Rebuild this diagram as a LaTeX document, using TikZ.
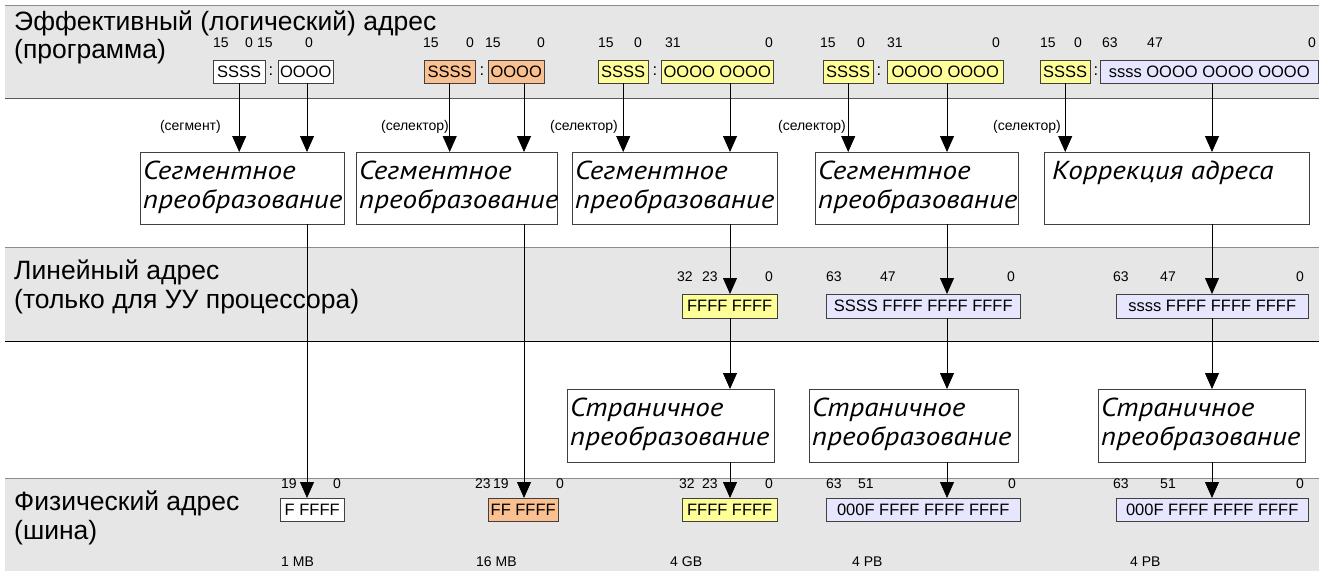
\documentclass[tikz,border=0pt]{standalone}
\usepackage{fontspec}
\setmainfont{Liberation Sans}
\newfontfamily\cursivefamily{PT Sans}[FakeStretch=1.12]
\usetikzlibrary{arrows.meta, positioning}
\definecolor{BandGray}{HTML}{E6E6E6}
\definecolor{RuleGray}{HTML}{8C8C8C}
\definecolor{Peach}{HTML}{FAC08F}
\definecolor{Lemon}{HTML}{FFFF99}
\definecolor{Lavender}{HTML}{E6E6FF}
\newcommand{\bandfont}{\fontsize{26.5}{30}\selectfont}
\newcommand{\bitfont}{\fontsize{14}{16}\selectfont}
\newcommand{\regfont}{\fontsize{16.5}{18}\selectfont}
\newcommand{\convfont}{\cursivefamily\fontsize{26}{29}\selectfont\itshape}

\begin{document}
\begin{tikzpicture}[x=1pt, y=-1pt,
    title/.style={font=\bandfont, anchor=base west, inner sep=0pt},
    bitl/.style={font=\bitfont, anchor=base west, inner sep=0pt},
    bitr/.style={font=\bitfont, anchor=base east, inner sep=0pt},
    reg/.style={draw=black!75, anchor=north west, inner sep=0pt,
                minimum height=23pt, font=\regfont},
    colon/.style={font=\regfont, inner sep=0pt},
    conv/.style={draw=black!75, fill=white, anchor=north west, inner sep=0pt},
    convtext/.style={font=\convfont, anchor=north west, align=left, inner sep=0pt},
    flow/.style={draw=black, line width=0.8pt, -{Triangle[length=16pt,width=14pt]}}]
    \useasboundingbox (0,0) rectangle (1319,570);

    % Bands
    \fill[BandGray] (5,5) rectangle (1319,98);
    \draw[RuleGray] (5,5) -- (1319,5);
    \draw[black!65] (5,98) -- (1319,98);
    \fill[BandGray] (5,247) rectangle (1319,341);
    \draw[RuleGray] (5,247) -- (1319,247);
    \draw[black] (5,341) -- (1319,341);
    \fill[BandGray] (5,478) rectangle (1319,572);
    \draw[RuleGray] (5,478) -- (1319,478);

    \node[title] (effA) at (14,30) {Эффективный (логический) адрес};
    \node[title] (effB) at (14,58) {(программа)};
    \node[title] (linA) at (14,279) {Линейный адрес};
    \node[title] (linB) at (14,308) {(только для УУ процессора)};
    \node[title] (phyA) at (14,510) {Физический адрес};
    \node[title] (phyB) at (14,539) {(шина)};

    % Logical addresses
    \node[reg, fill=white, minimum width=52pt] (s1) at (213,60) {SSSS};
    \node[colon] (k1) at (271,71) {:};
    \node[reg, fill=white, minimum width=55pt] (o1) at (278,60) {OOOO};
    \node[reg, fill=Peach, minimum width=51pt] (s2) at (424,60) {SSSS};
    \node[colon] (k2) at (482,71) {:};
    \node[reg, fill=Peach, minimum width=56pt] (o2) at (488,60) {OOOO};
    \node[reg, fill=Lemon, minimum width=50pt] (s3) at (598,60) {SSSS};
    \node[colon] (k3) at (655,71) {:};
    \node[reg, fill=Lemon, minimum width=112pt] (o3) at (661,60) {OOOO OOOO};
    \node[reg, fill=Lemon, minimum width=50pt] (s4) at (823,60) {SSSS};
    \node[colon] (k4) at (879,71) {:};
    \node[reg, fill=Lemon, minimum width=116pt] (o4) at (887,60) {OOOO OOOO};
    \node[reg, fill=Lemon, minimum width=50pt] (s5) at (1040,60) {SSSS};
    \node[colon] (k5) at (1096,71) {:};
    \node[reg, fill=Lavender, minimum width=218pt] (o5) at (1100,60) {ssss OOOO OOOO OOOO};

    \node[bitl] (t1) at (213,47) {15};   \node[bitr] (t2) at (253,47) {0};
    \node[bitl] (t3) at (257,47) {15};   \node[bitr] (t4) at (313,47) {0};
    \node[bitl] (t5) at (423,47) {15};   \node[bitr] (t6) at (474,47) {0};
    \node[bitl] (t7) at (485,47) {15};   \node[bitr] (t8) at (545,47) {0};
    \node[bitl] (t9) at (598,47) {15};   \node[bitr] (t10) at (642,47) {0};
    \node[bitl] (t11) at (665,47) {31};  \node[bitr] (t12) at (773,47) {0};
    \node[bitl] (t13) at (820,47) {15};  \node[bitr] (t14) at (865,47) {0};
    \node[bitl] (t15) at (887,47) {31};  \node[bitr] (t16) at (1000,47) {0};
    \node[bitl] (t17) at (1040,47) {15}; \node[bitr] (t18) at (1082,47) {0};
    \node[bitl] (t19) at (1102,47) {63}; \node[bitl] (t20) at (1147,47) {47};
    \node[bitr] (t21) at (1316,47) {0};

    \node[bitr] (seg) at (221,130) {(сегмент)};
    \node[bitr] (sel2) at (449,130) {(селектор)};
    \node[bitr] (sel3) at (618,130) {(селектор)};
    \node[bitr] (sel4) at (846,130) {(селектор)};
    \node[bitr] (sel5) at (1061,130) {(селектор)};

    % Segment translation
    \node[conv, minimum width=204pt, minimum height=72pt] (seg1) at (140,152) {};
    \node[conv, minimum width=201pt, minimum height=72pt] (seg2) at (356,152) {};
    \node[conv, minimum width=205pt, minimum height=72pt] (seg3) at (572,152) {};
    \node[conv, minimum width=203pt, minimum height=72pt] (seg4) at (815,152) {};
    \node[conv, minimum width=265pt, minimum height=72pt] (seg5) at (1044,152) {};
    \node[convtext] (segT1) at ([shift={(3,9)}]seg1.north west) {Сегментное\\преобразование};
    \node[convtext] (segT2) at ([shift={(3,9)}]seg2.north west) {Сегментное\\преобразование};
    \node[convtext] (segT3) at ([shift={(3,9)}]seg3.north west) {Сегментное\\преобразование};
    \node[convtext] (segT4) at ([shift={(3,9)}]seg4.north west) {Сегментное\\преобразование};
    \node[convtext] (segT5) at ([shift={(8,9)}]seg5.north west) {Коррекция адреса};

    % Linear addresses
    \node[reg, fill=Lemon, minimum width=95pt, minimum height=24pt] (lin3) at (682,294) {FFFF FFFF};
    \node[reg, fill=Lavender, minimum width=194pt, minimum height=24pt] (lin4) at (826,294) {SSSS FFFF FFFF FFFF};
    \node[reg, fill=Lavender, minimum width=192pt, minimum height=24pt] (lin5) at (1116,294) {ssss FFFF FFFF FFFF};
    \node[bitl] (l1) at (677,281) {32};  \node[bitl] (l2) at (702,281) {23};
    \node[bitr] (l3) at (773,281) {0};
    \node[bitl] (l4) at (826,281) {63};  \node[bitl] (l5) at (880,281) {47};
    \node[bitr] (l6) at (1015,281) {0};
    \node[bitl] (l7) at (1113,281) {63}; \node[bitl] (l8) at (1160,281) {47};
    \node[bitr] (l9) at (1304,281) {0};

    % Page translation
    \node[conv, minimum width=207pt, minimum height=73pt] (pg3) at (567,389) {};
    \node[conv, minimum width=209pt, minimum height=73pt] (pg4) at (809,389) {};
    \node[conv, minimum width=207pt, minimum height=73pt] (pg5) at (1098,389) {};
    \node[convtext] (pgT3) at ([shift={(3,9)}]pg3.north west) {Страничное\\преобразование};
    \node[convtext] (pgT4) at ([shift={(3,9)}]pg4.north west) {Страничное\\преобразование};
    \node[convtext] (pgT5) at ([shift={(3,9)}]pg5.north west) {Страничное\\преобразование};

    % Physical addresses
    \node[reg, fill=white, minimum width=64pt] (ph1) at (280,498) {F FFFF};
    \node[reg, fill=Peach, minimum width=70pt] (ph2) at (488,498) {FF FFFF};
    \node[reg, fill=Lemon, minimum width=95pt] (ph3) at (682,498) {FFFF FFFF};
    \node[reg, fill=Lavender, minimum width=194pt] (ph4) at (826,498) {000F FFFF FFFF FFFF};
    \node[reg, fill=Lavender, minimum width=192pt] (ph5) at (1116,498) {000F FFFF FFFF FFFF};
    \node[bitl] (p1) at (281,488) {19};  \node[bitr] (p2) at (341,488) {0};
    \node[bitl] (p3) at (475,488) {23};  \node[bitl] (p4) at (493,488) {19};
    \node[bitr] (p5) at (564,488) {0};
    \node[bitl] (p6) at (679,488) {32};  \node[bitl] (p7) at (702,488) {23};
    \node[bitr] (p8) at (773,488) {0};
    \node[bitl] (p9) at (826,488) {63};  \node[bitl] (p10) at (858,488) {51};
    \node[bitr] (p11) at (1016,488) {0};
    \node[bitl] (p12) at (1113,488) {63}; \node[bitl] (p13) at (1160,488) {51};
    \node[bitr] (p14) at (1304,488) {0};
    \node[bitl] (sz1) at (281,566) {1 MB};
    \node[bitl] (sz2) at (476,566) {16 MB};
    \node[bitl] (sz3) at (670,566) {4 GB};
    \node[bitl] (sz4) at (852,566) {4 PB};
    \node[bitl] (sz5) at (1130,566) {4 PB};

    % Columns
    \coordinate (c1) at (307,0);
    \coordinate (c2) at (524,0);
    \coordinate (c3) at (730,0);
    \coordinate (c4) at (947,0);
    \coordinate (c5) at (1212,0);

    % Flow
    \draw[flow] (s1.south) -- (s1.south |- seg1.north);
    \draw[flow] (s2.south) -- (s2.south |- seg2.north);
    \draw[flow] (s3.south) -- (s3.south |- seg3.north);
    \draw[flow] (s4.south) -- (s4.south |- seg4.north);
    \draw[flow] (s5.south) -- (s5.south |- seg5.north);
    \draw[flow] (c1 |- o1.south) -- (c1 |- seg1.north);
    \draw[flow] (c2 |- o2.south) -- (c2 |- seg2.north);
    \draw[flow] (c3 |- o3.south) -- (c3 |- seg3.north);
    \draw[flow] (c4 |- o4.south) -- (c4 |- seg4.north);
    \draw[flow] (c5 |- o5.south) -- (c5 |- seg5.north);
    \draw[flow] (c1 |- seg1.south) -- (c1 |- ph1.north);
    \draw[flow] (c2 |- seg2.south) -- (c2 |- ph2.north);
    \draw[flow] (c3 |- seg3.south) -- (c3 |- lin3.north);
    \draw[flow] (c4 |- seg4.south) -- (c4 |- lin4.north);
    \draw[flow] (c5 |- seg5.south) -- (c5 |- lin5.north);
    \draw[flow] (c3 |- lin3.south) -- (c3 |- pg3.north);
    \draw[flow] (c4 |- lin4.south) -- (c4 |- pg4.north);
    \draw[flow] (c5 |- lin5.south) -- (c5 |- pg5.north);
    \draw[flow] (c3 |- pg3.south) -- (c3 |- ph3.north);
    \draw[flow] (c4 |- pg4.south) -- (c4 |- ph4.north);
    \draw[flow] (c5 |- pg5.south) -- (c5 |- ph5.north);
\end{tikzpicture}
\end{document}
